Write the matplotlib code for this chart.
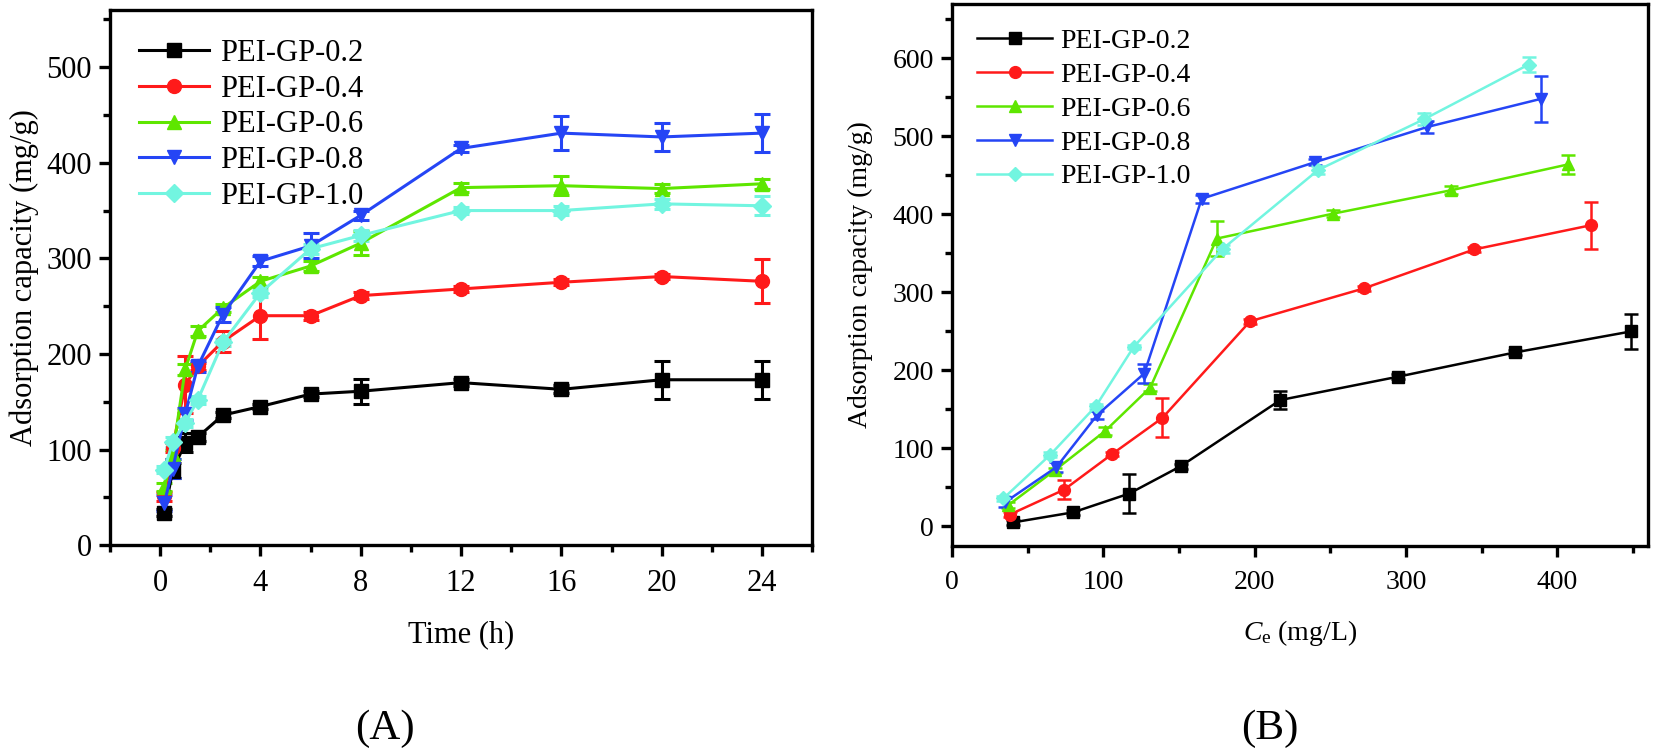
import matplotlib
matplotlib.use("Agg")
import matplotlib.pyplot as plt
from matplotlib.ticker import MultipleLocator

plt.rcParams['font.family'] = ['Liberation Serif', 'DejaVu Serif']
plt.rcParams['mathtext.fontset'] = 'custom'
plt.rcParams['mathtext.rm'] = 'Liberation Serif'
plt.rcParams['mathtext.it'] = 'Liberation Serif:italic'

labels = ['PEI-GP-0.2', 'PEI-GP-0.4', 'PEI-GP-0.6', 'PEI-GP-0.8', 'PEI-GP-1.0']
colors = ['#000000', '#ff1a1a', '#5ee600', '#2545f5', '#72f5e0']
markers = ['s', 'o', '^', 'v', 'D']

# (A) adsorption kinetics
time_h = [0.17, 0.5, 1, 1.5, 2.5, 4, 6, 8, 12, 16, 20, 24]
kin_q = [
    [34, 78, 107, 113, 136, 145, 158, 161, 170, 163, 173, 173],
    [51, 102, 168, 187, 213, 240, 240, 261, 268, 275, 281, 276],
    [61, 95, 184, 224, 248, 276, 292, 316, 374, 376, 373, 378],
    [44, 80, 137, 187, 241, 297, 313, 345, 415, 431, 427, 431],
    [79, 108, 128, 152, 212, 264, 310, 324, 350, 350, 357, 355],
]
kin_err = [
    [4, 8, 10, 4, 3, 3, 3, 13, 4, 4, 20, 20],
    [5, 5, 30, 4, 11, 24, 4, 4, 3, 3, 3, 23],
    [4, 5, 6, 5, 4, 5, 5, 13, 5, 10, 5, 5],
    [8, 10, 6, 6, 8, 5, 13, 5, 4, 18, 15, 20],
    [4, 5, 4, 4, 4, 4, 5, 6, 4, 5, 5, 10],
]

# (B) adsorption isotherms
iso_ce = [
    [40, 80, 117, 151, 217, 295, 372, 449],
    [38, 74, 106, 139, 197, 272, 345, 422],
    [37, 68, 101, 131, 175, 252, 330, 407],
    [35, 69, 96, 127, 165, 240, 314, 389],
    [34, 65, 95, 120, 179, 242, 312, 381],
]
iso_q = [
    [5, 18, 42, 77, 162, 192, 223, 250],
    [15, 47, 93, 139, 263, 305, 355, 386],
    [27, 72, 122, 178, 369, 401, 431, 464],
    [31, 76, 143, 196, 420, 467, 512, 548],
    [36, 92, 154, 230, 356, 457, 522, 592],
]
iso_err = [
    [3, 3, 25, 3, 12, 3, 3, 22],
    [3, 12, 3, 25, 3, 3, 3, 30],
    [4, 3, 5, 5, 22, 4, 5, 12],
    [6, 6, 5, 12, 5, 4, 8, 30],
    [3, 3, 3, 3, 5, 5, 8, 10],
]


def style_axis(ax, fs, lw):
    for s in ax.spines.values():
        s.set_linewidth(lw)
    ax.tick_params(which='major', direction='out', length=8, width=lw, labelsize=fs)
    ax.tick_params(which='minor', direction='out', length=5, width=lw)
    ax.tick_params(axis='x', pad=9)
    ax.tick_params(axis='y', pad=5)


fig = plt.figure(figsize=(16.54, 7.54), dpi=100)

# panel A
ax1 = fig.add_axes([0.0665, 0.277, 0.4245, 0.710])
for i in range(5):
    ax1.errorbar(time_h, kin_q[i], yerr=kin_err[i], color=colors[i], marker=markers[i],
                 ms=10 if markers[i] != 'D' else 9, lw=2.2, elinewidth=2.2, capsize=6,
                 capthick=2.2, label=labels[i])
ax1.set_xlim(-2, 26)
ax1.set_ylim(0, 560)
ax1.xaxis.set_major_locator(MultipleLocator(4))
ax1.xaxis.set_minor_locator(MultipleLocator(2))
ax1.yaxis.set_major_locator(MultipleLocator(100))
ax1.yaxis.set_minor_locator(MultipleLocator(50))
style_axis(ax1, 22, 2.4)
ax1.set_xlabel('Time (h)', fontsize=22, labelpad=16)
ax1.set_ylabel('Adsorption capacity (mg/g)', fontsize=22, labelpad=5)
handles, labs = ax1.get_legend_handles_labels()
handles = [h[0] for h in handles]
ax1.legend(handles, labs, loc='upper left', frameon=False, fontsize=22,
           handlelength=2.3, handletextpad=0.35, labelspacing=0.22,
           borderaxespad=0.55)
fig.text(0.233, 0.034, '(A)', fontsize=31, ha='center', va='center')

# panel B
ax2 = fig.add_axes([0.5756, 0.276, 0.4208, 0.719])
for i in range(5):
    ax2.errorbar(iso_ce[i], iso_q[i], yerr=iso_err[i], color=colors[i], marker=markers[i],
                 ms=8.5 if markers[i] != 'D' else 7.5, lw=1.8, elinewidth=1.8, capsize=5,
                 capthick=1.8, label=labels[i])
ax2.set_xlim(0, 460)
ax2.set_ylim(-25, 670)
ax2.xaxis.set_major_locator(MultipleLocator(100))
ax2.xaxis.set_minor_locator(MultipleLocator(50))
ax2.yaxis.set_major_locator(MultipleLocator(100))
ax2.yaxis.set_minor_locator(MultipleLocator(50))
style_axis(ax2, 20, 2.4)
ax2.set_xlabel(r'$C_{\mathrm{e}}$ (mg/L)', fontsize=20, labelpad=17)
ax2.set_ylabel('Adsorption capacity (mg/g)', fontsize=20, labelpad=14)
handles, labs = ax2.get_legend_handles_labels()
handles = [h[0] for h in handles]
ax2.legend(handles, labs, loc='upper left', frameon=False, fontsize=20,
           handlelength=2.7, handletextpad=0.3, labelspacing=0.3,
           borderaxespad=0.5)
fig.text(0.768, 0.034, '(B)', fontsize=31, ha='center', va='center')

fig.savefig('out.png', dpi=100)
